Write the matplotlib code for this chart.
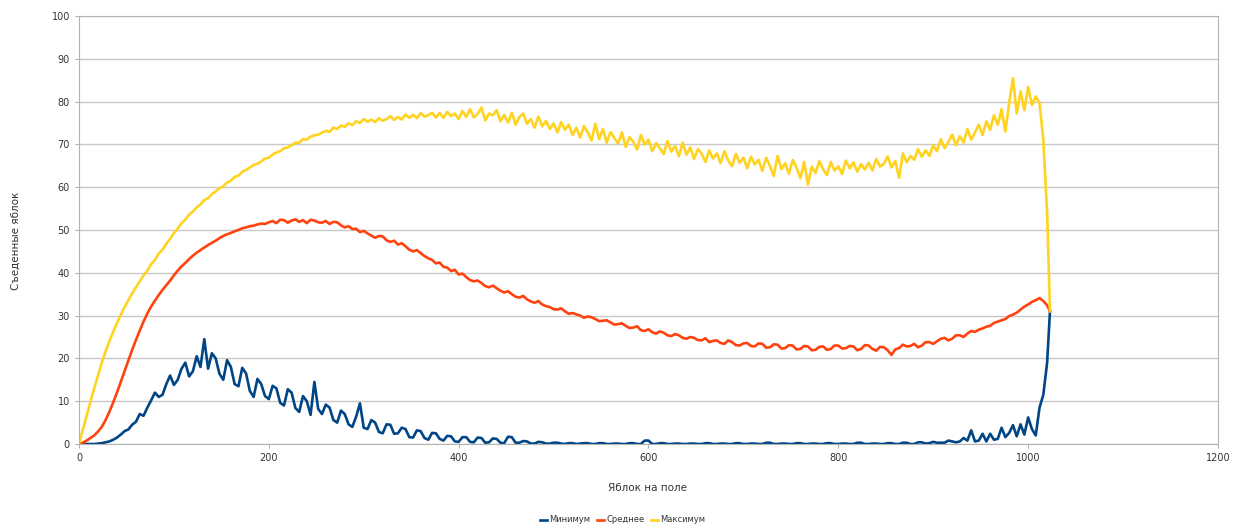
import matplotlib
matplotlib.use('Agg')
import matplotlib.pyplot as plt

# apples on the field (x positions of samples)
apples = list(range(0, 1021, 4)) + [1023]

maximum = [
    0, 3.3, 6.6, 9.8, 13, 16, 19, 21.6, 24, 26.2, 28.2, 30.2, 32, 33.6, 35.2, 36.6,
    38, 39.4, 40.5, 42, 43, 44.5, 45.4, 46.8, 47.9, 49.3, 50.3, 51.6, 52.4, 53.6, 54.3, 55.3,
    56, 57, 57.4, 58.4, 59, 59.8, 60.2, 61.1, 61.5, 62.4, 62.7, 63.6, 64, 64.6, 65.2, 65.5,
    66, 66.7, 66.9, 67.6, 68.1, 68.4, 69.1, 69.3, 69.8, 70.4, 70.4, 71.2, 71.1, 71.8, 72.1, 72.3,
    72.7, 73.2, 72.9, 73.9, 73.6, 74.4, 74.1, 74.9, 74.5, 75.4, 75, 75.9, 75.3, 75.8, 75.2, 76.1,
    75.5, 75.9, 76.6, 75.7, 76.4, 75.8, 77, 76.2, 76.9, 76.1, 77.3, 76.5, 76.8, 77.4, 76.3, 77.3,
    76.2, 77.6, 76.6, 77.2, 75.9, 77.8, 76.4, 78.2, 76.3, 77.1, 78.6, 75.6, 77.2, 76.8, 78, 75.4,
    76.9, 75.1, 77.4, 74.6, 76.4, 77.2, 74.8, 75.9, 73.9, 76.5, 74.2, 75.5, 73.6, 74.9, 72.8, 75.2,
    73.4, 74.6, 72.2, 73.9, 71.6, 74.3, 72.8, 70.9, 74.8, 71.2, 73.6, 70.4, 72.9, 71.5, 70.2, 72.8,
    69.4, 71.7, 70.6, 68.8, 72.2, 69.9, 71.1, 68.4, 70.3, 69.1, 67.7, 70.8, 68.3, 69.6, 67.2, 70.4,
    67.6, 69.3, 66.6, 68.9, 67.8, 65.9, 68.6, 66.7, 67.9, 65.6, 68.4, 66.2, 64.9, 67.8, 65.7, 66.9,
    64.4, 67.1, 65.3, 66.4, 63.8, 66.9, 64.9, 62.6, 67.3, 64.2, 65.6, 63.1, 66.4, 64.6, 62.1, 65.9,
    60.6, 64.8, 63.3, 66.1, 64.2, 62.8, 65.9, 63.9, 64.9, 63.1, 66.2, 64.4, 65.8, 63.6, 65.4, 64.1,
    65.7, 63.9, 66.6, 64.8, 65.5, 67.2, 64.6, 66.1, 62.2, 67.9, 65.8, 67.3, 66.4, 68.9, 67.1, 68.6,
    67.3, 69.8, 68.4, 71.2, 69.1, 70.6, 72.3, 69.8, 71.9, 70.4, 73.6, 71.1, 72.8, 74.6, 72.2, 75.4,
    73.4, 76.8, 74.6, 78.2, 73, 79.6, 85.5, 77.2, 82.4, 78, 83.4, 79.2, 81.2, 79.6, 71, 54,
    31,
]

mean = [
    0, 0.3, 0.8, 1.4, 2, 2.9, 4, 5.6, 7.5, 9.7, 12, 14.5, 17, 19.5, 22, 24.3,
    26.5, 28.6, 30.5, 32.1, 33.5, 34.8, 36, 37.1, 38.2, 39.4, 40.5, 41.5, 42.3, 43.2, 44, 44.7,
    45.3, 45.9, 46.5, 47, 47.5, 48.1, 48.6, 49, 49.3, 49.7, 50, 50.4, 50.6, 50.9, 51, 51.3,
    51.5, 51.4, 51.8, 52.1, 51.6, 52.4, 52.3, 51.7, 52.2, 52.5, 51.9, 52.3, 51.6, 52.4, 52.2, 51.8,
    51.7, 52.1, 51.4, 51.9, 51.8, 51.1, 50.6, 50.9, 50.2, 50.3, 49.5, 49.8, 49.2, 48.7, 48.2, 48.6,
    48.5, 47.6, 47.2, 47.5, 46.6, 46.9, 46.2, 45.4, 45, 45.3, 44.6, 43.9, 43.4, 43, 42.2, 42.4,
    41.4, 41.2, 40.4, 40.7, 39.6, 39.8, 39, 38.3, 38, 38.2, 37.6, 36.9, 36.6, 37, 36.4, 35.8,
    35.4, 35.7, 35, 34.4, 34.2, 34.6, 33.8, 33.3, 33, 33.4, 32.6, 32.2, 32, 31.5, 31.4, 31.7,
    31, 30.4, 30.6, 30.3, 30, 29.5, 29.8, 29.6, 29.2, 28.7, 28.8, 28.9, 28.4, 27.9, 28, 28.2,
    27.6, 27.1, 27.2, 27.5, 26.6, 26.4, 26.8, 26.1, 25.8, 26.3, 26, 25.4, 25.2, 25.7, 25.4, 24.8,
    24.6, 25, 24.8, 24.3, 24.2, 24.7, 23.8, 24.1, 24.2, 23.6, 23.4, 24.2, 23.8, 23.1, 23, 23.5,
    23.6, 22.9, 22.8, 23.5, 23.4, 22.5, 22.6, 23.3, 23.2, 22.3, 22.4, 23.1, 23, 22.1, 22.2, 22.9,
    22.8, 21.9, 22, 22.7, 22.8, 22, 22.2, 23, 23, 22.3, 22.4, 22.9, 22.8, 21.9, 22.2, 23.1,
    23, 22.2, 21.8, 22.7, 22.6, 21.9, 20.8, 22.1, 22.4, 23.2, 22.8, 22.9, 23.4, 22.6, 23, 23.8,
    23.8, 23.4, 24, 24.6, 24.8, 24.2, 24.6, 25.4, 25.4, 25, 25.8, 26.4, 26.2, 26.7, 27, 27.4,
    27.6, 28.3, 28.6, 28.9, 29.2, 29.9, 30.2, 30.7, 31.4, 32.1, 32.6, 33.2, 33.6, 34.1, 33.4, 32.4,
    31,
]

minimum = [
    0, 0, 0, 0, 0, 0.1, 0.2, 0.4, 0.6, 1, 1.5, 2.2, 3, 3.4, 4.5, 5.2,
    7, 6.6, 8.5, 10.2, 12, 11, 11.5, 14, 16, 13.8, 15, 17.6, 19, 15.8, 17, 20.5,
    18, 24.5, 17.6, 21.2, 20, 16.4, 15, 19.6, 18, 14, 13.5, 17.8, 16.5, 12.4, 11, 15.2,
    14, 11.2, 10.5, 13.6, 13, 9.6, 9, 12.8, 12, 8.4, 7.5, 11.2, 10, 6.8, 14.5, 8.2,
    7, 9.2, 8.5, 5.6, 5, 7.8, 7, 4.6, 4, 6.4, 9.5, 3.8, 3.5, 5.6, 5, 2.8,
    2.5, 4.6, 4.5, 2.4, 2.5, 3.8, 3.5, 1.6, 1.5, 3.2, 3, 1.4, 1, 2.6, 2.5, 1.2,
    0.8, 1.9, 1.8, 0.6, 0.5, 1.6, 1.6, 0.5, 0.4, 1.5, 1.4, 0.3, 0.4, 1.3, 1.2, 0.3,
    0.2, 1.7, 1.6, 0.3, 0.3, 0.7, 0.6, 0.1, 0.1, 0.5, 0.4, 0.1, 0.1, 0.3, 0.3, 0.1,
    0, 0.2, 0.2, 0, 0.1, 0.2, 0.2, 0, 0, 0.2, 0.2, 0, 0, 0.1, 0.1, 0,
    0, 0.2, 0.2, 0, 0, 0.8, 0.8, 0, 0, 0.2, 0.2, 0, 0, 0.1, 0.1, 0,
    0, 0.1, 0.1, 0, 0, 0.2, 0.2, 0, 0, 0.1, 0.1, 0, 0, 0.2, 0.2, 0,
    0, 0.1, 0.1, 0, 0, 0.3, 0.3, 0, 0, 0.1, 0.1, 0, 0, 0.2, 0.2, 0,
    0, 0.1, 0.1, 0, 0, 0.2, 0.2, 0, 0, 0.1, 0.1, 0, 0, 0.3, 0.3, 0,
    0, 0.1, 0.1, 0, 0, 0.2, 0.2, 0, 0, 0.3, 0.3, 0, 0, 0.4, 0.4, 0.1,
    0.2, 0.5, 0.3, 0.3, 0.3, 0.8, 0.6, 0.4, 0.6, 1.4, 0.8, 3.2, 0.6, 0.8, 2.4, 0.6,
    2.4, 1, 1.2, 3.8, 1.6, 2.6, 4.4, 1.8, 4.6, 2.2, 6.2, 3.5, 2, 8.5, 11.5, 19,
    31,
]

series = [
    ('Минимум', minimum, '#004586'),
    ('Среднее', mean, '#ff420e'),
    ('Максимум', maximum, '#ffd320'),
]

fig = plt.figure(figsize=(12.46, 5.32), dpi=100)
ax = fig.add_axes([0.0634, 0.1654, 0.9141, 0.8046])

for name, vals, color in series:
    ax.plot(apples, vals, color=color, lw=1.9, label=name)

ax.set_xlim(0, 1200)
ax.set_ylim(0, 100)
ax.set_xticks(range(0, 1201, 200))
ax.set_yticks(range(0, 101, 10))
ax.grid(axis='y', color='#c8c8c8', lw=1)
ax.set_axisbelow(True)
for sp in ax.spines.values():
    sp.set_color('#b3b3b3')
ax.tick_params(labelsize=7, colors='#b3b3b3', labelcolor='#333333', length=3)

# axis titles placed where the reference has them
fig.text(648 / 1246, 1 - 488 / 532, 'Яблок на поле', fontsize=7.5, color='#333333',
         ha='center', va='center')
fig.text(16 / 1246, 1 - 241 / 532, 'Съеденные яблок', fontsize=7.5, color='#333333',
         ha='center', va='center', rotation=90)

fig.legend(loc='lower center', bbox_to_anchor=(0.5, 0.0), ncol=3, frameon=False,
           fontsize=6, handlelength=0.8, handletextpad=0.3, columnspacing=0.8,
           labelcolor='#333333')

fig.savefig('out.png', dpi=100)
